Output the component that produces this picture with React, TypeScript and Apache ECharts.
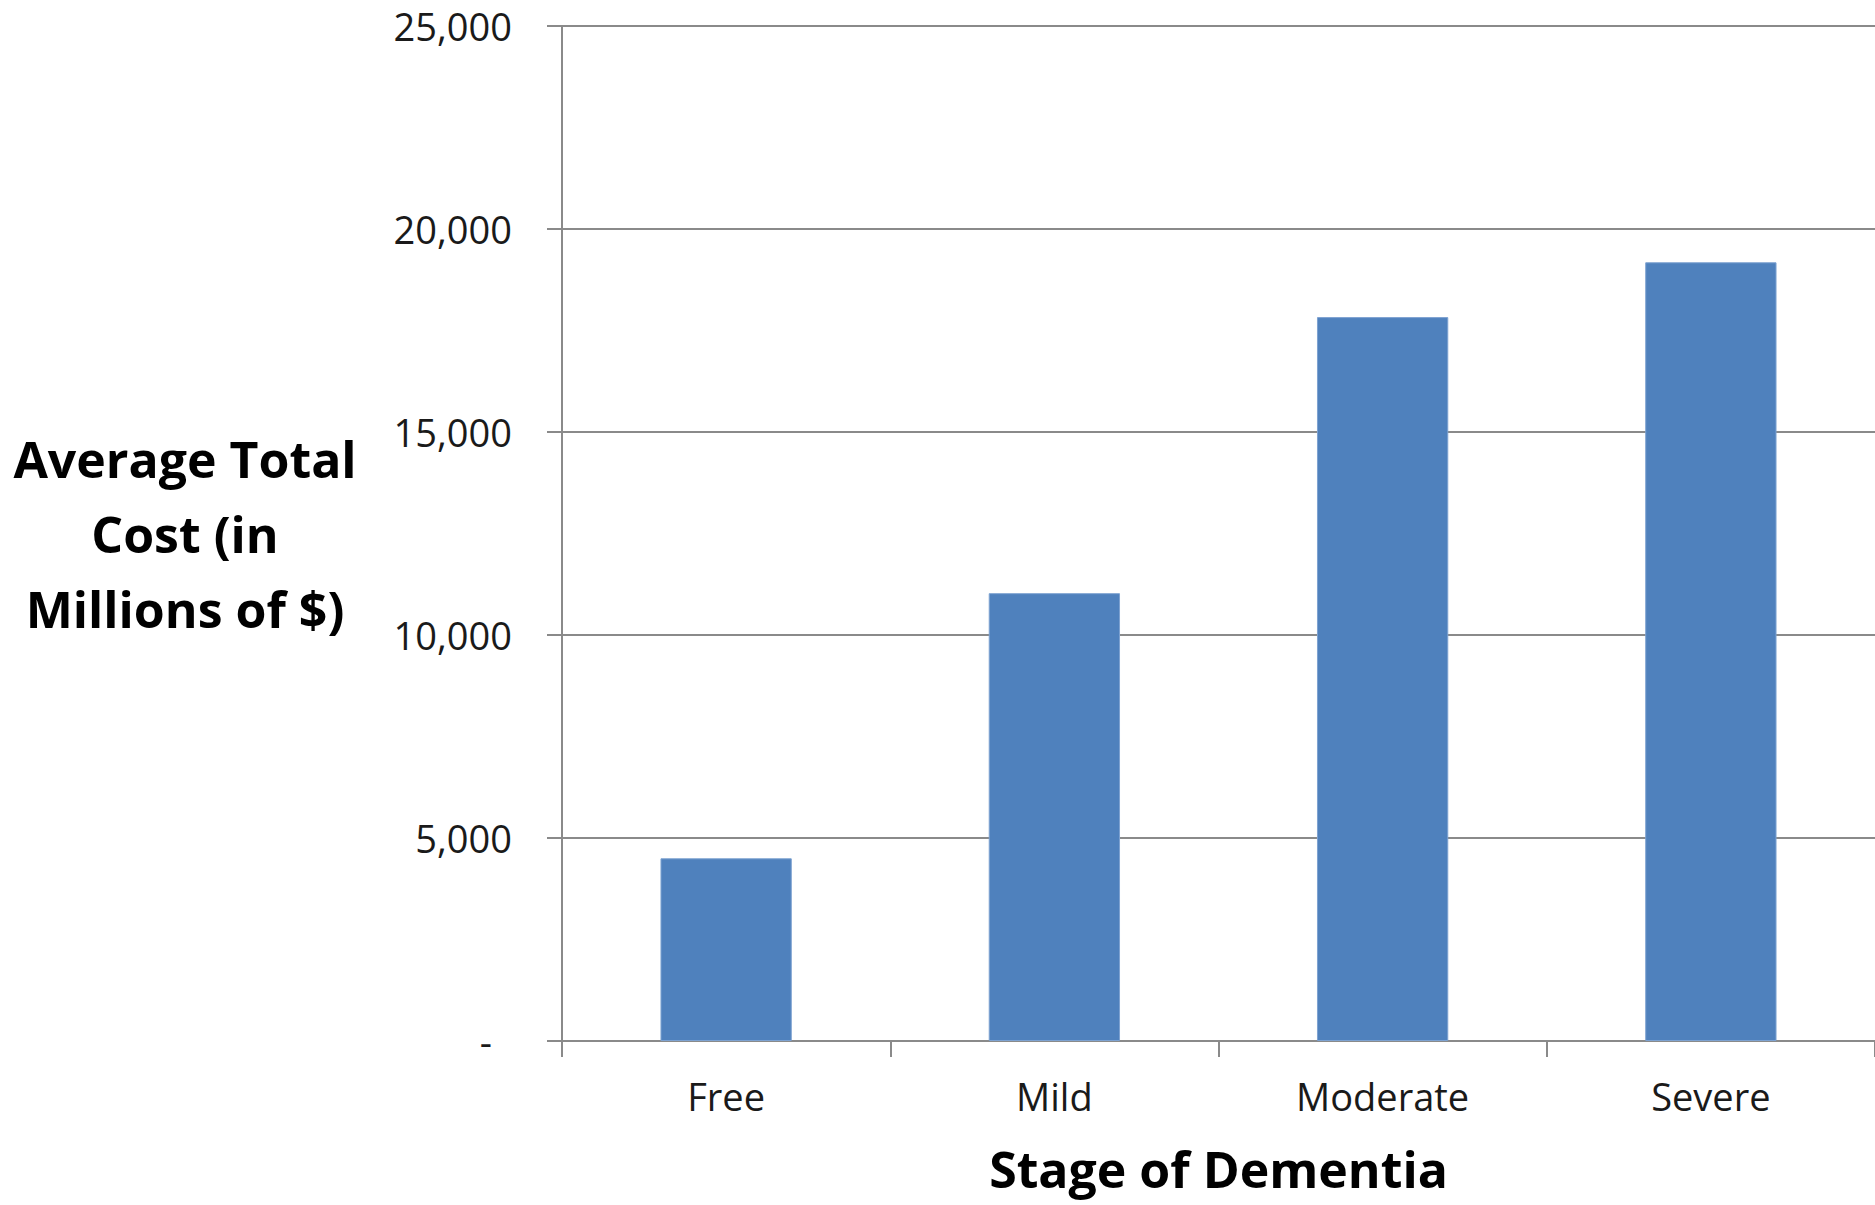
import React, { useEffect, useRef } from "react";
import * as echarts from "echarts";

// Cost by stage of dementia (millions of dollars)
const stages: string[] = ["Free", "Mild", "Moderate", "Severe"];
const averageTotalCost: number[] = [4500, 11030, 17830, 19180];
const yTicks = { min: 0, max: 25000, interval: 5000 };
const yAxisTitle = "Average Total\nCost (in\nMillions of $)";
const xAxisTitle = "Stage of Dementia";

const FONT = "'Open Sans', 'Noto Sans', sans-serif";
const GRID_GRAY = "#8a8a8a";

function formatTick(v: number): string {
  if (v === 0) return "{dash|-}";
  return v.toLocaleString("en-US");
}

export default function App() {
  const ref = useRef<HTMLDivElement>(null);

  useEffect(() => {
    document.body.style.margin = "0";
    if (!ref.current) return;
    const chart = echarts.init(ref.current, undefined, { renderer: "svg" });
    chart.setOption({
      animation: false,
      backgroundColor: "#ffffff",
      grid: { left: 562, top: 26, right: 0, bottom: 164, containLabel: false },
      xAxis: {
        type: "category",
        data: stages,
        boundaryGap: true,
        name: xAxisTitle,
        nameLocation: "middle",
        nameGap: 128,
        nameTextStyle: {
          fontFamily: FONT,
          fontWeight: "bold",
          fontSize: 50,
          lineHeight: 56,
          color: "#000000",
          verticalAlign: "middle",
        },
        axisLine: { show: true, lineStyle: { color: GRID_GRAY, width: 2 } },
        axisTick: { show: true, alignWithLabel: false, length: 16, lineStyle: { color: GRID_GRAY, width: 2 } },
        axisLabel: { margin: 36, fontFamily: FONT, fontSize: 38, color: "#1a1a1a" },
        splitLine: { show: false },
      },
      yAxis: {
        type: "value",
        min: yTicks.min,
        max: yTicks.max,
        interval: yTicks.interval,
        name: yAxisTitle,
        nameLocation: "middle",
        nameRotate: 0,
        nameGap: 377,
        nameTextStyle: {
          fontFamily: FONT,
          fontWeight: "bold",
          fontSize: 50,
          lineHeight: 75,
          color: "#000000",
          align: "center",
          verticalAlign: "middle",
        },
        axisLine: { show: true, lineStyle: { color: GRID_GRAY, width: 2 } },
        axisTick: { show: true, inside: false, length: 15, lineStyle: { color: GRID_GRAY, width: 2 } },
        axisLabel: {
          margin: 50,
          fontFamily: FONT,
          fontSize: 38,
          color: "#1a1a1a",
          formatter: formatTick,
          rich: {
            dash: { fontFamily: FONT, fontSize: 38, color: "#1a1a1a", padding: [0, 20, 0, 0] },
          },
        },
        splitLine: { show: true, lineStyle: { color: GRID_GRAY, width: 2 } },
      },
      series: [
        {
          type: "bar",
          data: averageTotalCost,
          barCategoryGap: "60%",
          itemStyle: { color: "#4f81bd", borderColor: "#7da2d1", borderWidth: 1 },
        },
      ],
    });
    return () => chart.dispose();
  }, []);

  return (
    <div
      ref={ref}
      style={{ position: "absolute", left: 0, top: 0, width: 1875, height: 1205 }}
    />
  );
}
